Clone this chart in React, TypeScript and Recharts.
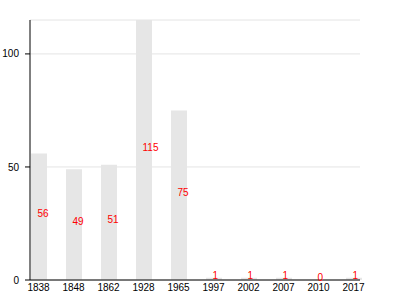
import { BarChart, Bar, XAxis, YAxis, CartesianGrid, LabelList } from 'recharts';

const years = ['1838', '1848', '1862', '1928', '1965', '1997', '2002', '2007', '2010', '2017'];
const counts = [56, 49, 51, 115, 75, 1, 1, 1, 0, 1];
const yTicks = [0, 50, 100];

const chartData = years.map((year, i) => ({ year, count: counts[i] }));

const font = '"Liberation Sans", Arial, sans-serif';

// value sits left-aligned from the bar's middle, a bit above its vertical centre
const renderValue = (props: any) => {
  const { x, y, width, height, value } = props;
  return (
    <text
      x={Number(x) + Number(width) / 2 - 1.5}
      y={Number(y) + Number(height) / 2 - 3}
      dy="0.355em"
      textAnchor="start"
      fill="#ff0000"
      fontSize={10}
      fontFamily={font}
    >
      {value}
    </text>
  );
};

export default function App() {
  return (
    <div style={{ fontFamily: font, position: 'absolute', left: 0, top: 0 }}>
      <BarChart
        width={400}
        height={300}
        data={chartData}
        margin={{ top: 20, right: 40, bottom: 0, left: 0 }}
        style={{ overflow: 'visible' }}
      >
        <CartesianGrid vertical={false} stroke="#e4e4e4" />
        <XAxis
          dataKey="year"
          padding={{ left: -9, right: -11 }}
          tickLine={false}
          axisLine={{ stroke: '#000' }}
          tick={{ fill: '#000', fontSize: 10, fontFamily: font }}
          tickMargin={-2}
          height={20}
          interval={0}
        />
        <YAxis
          domain={[0, 115]}
          ticks={yTicks}
          width={30}
          tickSize={5}
          tickMargin={6}
          axisLine={{ stroke: '#000' }}
          tickLine={{ stroke: '#000' }}
          tick={{ fill: '#000', fontSize: 10, fontFamily: font }}
        />
        <Bar
          dataKey="count"
          fill="#e6e6e6"
          barSize={16}
          minPointSize={(v: number) => (v === 0 ? 0.01 : 0)}
          isAnimationActive={false}
        >
          <LabelList dataKey="count" content={renderValue} />
        </Bar>
      </BarChart>
    </div>
  );
}
